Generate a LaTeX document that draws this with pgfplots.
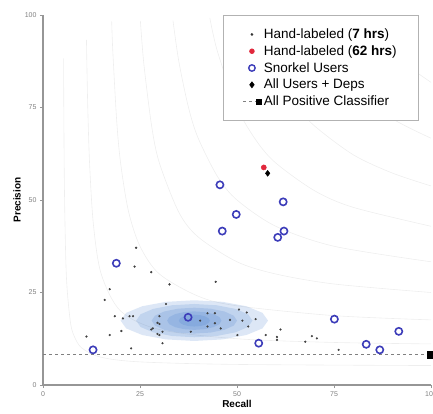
\documentclass[border=0pt]{standalone}
\usepackage{pgfplots}
\pgfplotsset{compat=1.18}
\usepackage{fontspec}
\setmainfont{Liberation Sans}
\usetikzlibrary{calc}
\definecolor{snorkel}{RGB}{60,60,185}
\definecolor{handred}{RGB}{225,40,60}
\definecolor{blob}{RGB}{55,115,200}
\definecolor{axisgray}{RGB}{150,150,150}
\definecolor{isogray}{RGB}{238,238,238}

\begin{document}
\begin{tikzpicture}
\begin{axis}[
  name=ax,
  width=388pt, height=370pt, scale only axis,
  xmin=0, xmax=100, ymin=0, ymax=100,
  axis x line=bottom, axis y line=left,
  axis line style={-, axisgray, line width=1.6pt},
  xtick={0,25,50,75,100}, ytick={0,25,50,75,100},
  tick align=outside, major tick length=3pt,
  tick style={axisgray, line width=0.8pt},
  /pgf/number format/assume math mode=true,
  tick label style={font=\fontsize{7}{8}\selectfont, text=gray},
  xlabel={\textbf{Recall}}, ylabel={\textbf{Precision}},
  label style={font=\fontsize{13.5}{15}\selectfont},
  every axis x label/.style={at={(axis description cs:0.5,-0.052)}, anchor=center},
  every axis y label/.style={at={(axis description cs:-0.067,0.5)}, anchor=center, rotate=90},
  legend style={at={(0.969,1)}, anchor=north east, draw=gray!60, line width=0.6pt,
    font=\fontsize{13.5}{15}\selectfont, row sep=2.5pt, inner xsep=20pt, inner ysep=12pt,
    nodes={inner ysep=1.5pt}},
  legend cell align=left,
]
% legend entries
\addlegendimage{only marks, mark=*, mark size=1pt, black!80}
\addlegendentry{Hand-labeled (\textbf{7 hrs})\hspace{10pt}}
\addlegendimage{only marks, mark=*, mark size=2.4pt, handred}
\addlegendentry{Hand-labeled (\textbf{62 hrs})}
\addlegendimage{only marks, mark=o, mark size=3.2pt, line width=1.4pt, snorkel}
\addlegendentry{Snorkel Users}
\addlegendimage{only marks, mark=diamond*, mark size=3pt, black}
\addlegendentry{All Users + Deps}
\addlegendimage{legend image code/.code={
  \draw[dashed, gray, line width=0.8pt] (0cm,0cm) -- (0.55cm,0cm);
  \fill[black] (0.55cm,0cm) +(-2.5pt,-2.5pt) rectangle +(2.5pt,2.5pt);}}
\addlegendentry{All Positive Classifier}

% iso-F1 curves
\addplot[isogray, line width=0.6pt, smooth, forget plot] coordinates {(5.3,88.3)(5.5,55)(6,30)(7,17.5)(8,13.3)(10,10)(15,7.5)(25,6.25)(50,5.56)(100,5.26)};
\addplot[isogray, line width=0.6pt, smooth, forget plot] coordinates {(11.2,93.3)(11.5,76.7)(12,60)(13,43.3)(15,30)(20,20)(30,15)(50,12.5)(75,11.5)(100,11.1)};
\addplot[isogray, line width=0.6pt, smooth, forget plot] coordinates {(17.7,98.3)(18,90)(19,71.3)(20,60)(22,47.1)(25,37.5)(30,30)(40,24)(50,21.4)(75,18.75)(100,17.6)};
\addplot[isogray, line width=0.6pt, smooth, forget plot] coordinates {(25.1,98.4)(26,86.7)(28,70)(30,60)(35,46.7)(40,40)(50,33.3)(60,30)(75,27.3)(100,25)};
\addplot[isogray, line width=0.6pt, smooth, forget plot] coordinates {(33.5,98.5)(35,87.5)(37.5,75)(40,66.7)(45,56.3)(50,50)(60,42.9)(75,37.5)(100,33.3)};
\addplot[isogray, line width=0.6pt, smooth, forget plot] coordinates {(43,99.2)(45,90)(50,75)(55,66)(60,60)(70,52.5)(80,48)(100,42.9)};
\addplot[isogray, line width=0.6pt, smooth, forget plot] coordinates {(54,99.5)(55,96.3)(60,84)(65,75.8)(70,70)(80,62.2)(90,57.3)(100,53.8)};
\addplot[isogray, line width=0.6pt, smooth, forget plot] coordinates {(66.7,100)(70,93.3)(75,85.7)(80,80)(90,72)(100,66.7)};
\addplot[isogray, line width=0.6pt, smooth, forget plot] coordinates {(81.8,100)(85,95.6)(90,90)(95,85.5)(100,81.8)};

% density of hand-labeled results (nested layers)
\addplot[fill=blob, fill opacity=0.17, draw=none, forget plot] coordinates {(58,17.4)(56.56,19.51)(52.43,21.29)(46.28,22.48)(39,22.9)(31.72,22.48)(25.57,21.29)(21.44,19.51)(20,17.4)(21.44,15.29)(25.57,13.51)(31.72,12.32)(39,11.9)(46.28,12.32)(52.43,13.51)(56.56,15.29)} -- cycle;
\addplot[fill=blob, fill opacity=0.17, draw=none, forget plot] coordinates {(54,17.4)(52.86,19.12)(49.61,20.58)(44.75,21.56)(39,21.9)(33.25,21.56)(28.39,20.58)(25.14,19.12)(24,17.4)(25.14,15.68)(28.39,14.22)(33.25,13.24)(39,12.9)(44.75,13.24)(49.61,14.22)(52.86,15.68)} -- cycle;
\addplot[fill=blob, fill opacity=0.17, draw=none, forget plot] coordinates {(50,17.4)(49.16,18.74)(46.78,19.87)(43.21,20.63)(39,20.9)(34.79,20.63)(31.22,19.87)(28.84,18.74)(28,17.4)(28.84,16.06)(31.22,14.93)(34.79,14.17)(39,13.9)(43.21,14.17)(46.78,14.93)(49.16,16.06)} -- cycle;
\addplot[fill=blob, fill opacity=0.17, draw=none, forget plot] coordinates {(46,17.4)(45.47,18.36)(43.95,19.17)(41.68,19.71)(39,19.9)(36.32,19.71)(34.05,19.17)(32.53,18.36)(32,17.4)(32.53,16.44)(34.05,15.63)(36.32,15.09)(39,14.9)(41.68,15.09)(43.95,15.63)(45.47,16.44)} -- cycle;
\addplot[fill=blob, fill opacity=0.17, draw=none, forget plot] coordinates {(43,17.4)(42.7,18.01)(41.83,18.53)(40.53,18.88)(39,19)(37.47,18.88)(36.17,18.53)(35.3,18.01)(35,17.4)(35.3,16.79)(36.17,16.27)(37.47,15.92)(39,15.8)(40.53,15.92)(41.83,16.27)(42.7,16.79)} -- cycle;

% all positive classifier
\addplot[dashed, gray, line width=0.9pt, forget plot] coordinates {(0,8.3)(100,8.3)};
\addplot[only marks, mark=square*, mark size=3.5pt, black, forget plot] coordinates {(100,8.3)};

% hand-labeled (7 hrs)
\addplot[only marks, mark=*, mark size=0.9pt, black!75, forget plot] coordinates {
(24.0,37.1)(23.6,32.0)(27.9,30.5)(32.6,27.2)(17.2,25.9)(15.9,23.0)(31.7,21.9)
(18.5,18.6)(20.6,18.0)(22.3,18.6)(23.2,18.6)(30,18.6)(28.3,15.3)(30,16.5)
(30.8,14.4)(30,13.5)(30.8,11.3)(20.2,14.6)(17.2,13.5)(11.2,13.1)(22.7,9.9)
(40.5,17.4)(42.4,19.4)(44.3,19.4)(42.4,15.8)(44.3,16.7)(45.8,15.3)(48.2,17.6)
(38.1,14.4)(50.5,20.4)(52.5,19.6)(51.4,17.4)(52.9,15.8)(54.8,17.8)(50.1,13.5)
(57.4,13.5)(60.3,13.0)(60.3,12.2)(61.2,15.0)(44.5,27.9)(67.6,11.7)(69.3,13.2)
(70.6,12.6)(76.2,9.5)(29.5,16.8)(27.9,15.0)(29.5,13.8)};

% Snorkel users
\addplot[only marks, mark=o, mark size=3.6pt, line width=1.6pt, snorkel, forget plot] coordinates {
(45.6,54.1)(49.8,46.1)(46.2,41.6)(61.9,49.5)(62.1,41.6)(60.5,39.9)(75.1,17.8)
(55.6,11.3)(83.3,11.0)(86.8,9.5)(91.7,14.5)(18.9,32.9)(12.9,9.5)(37.4,18.3)};

% hand-labeled (62 hrs) and all users + deps
\addplot[only marks, mark=*, mark size=2.6pt, handred, forget plot] coordinates {(56.9,58.8)};
\addplot[only marks, mark=diamond*, mark size=3pt, black, forget plot] coordinates {(57.9,57.2)};
\end{axis}
\pgfresetboundingbox
\path[use as bounding box] ($(ax.south west)+(-43pt,-28pt)$) rectangle ($(ax.north east)+(2pt,15pt)$);
\end{tikzpicture}
\end{document}
